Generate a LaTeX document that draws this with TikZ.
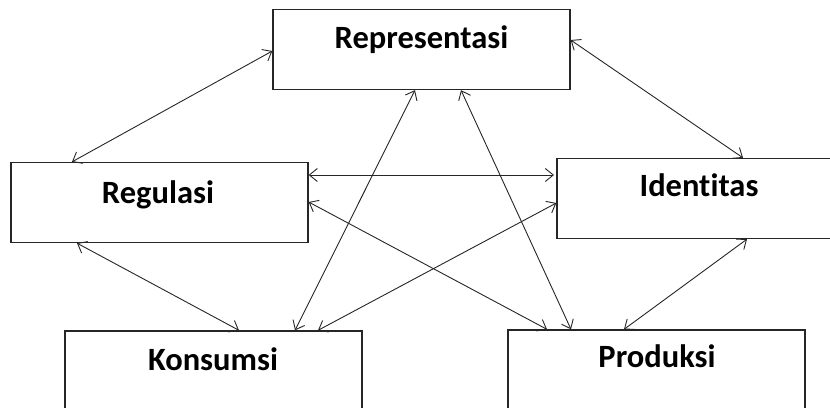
\documentclass[tikz,border=0pt]{standalone}
\usepackage{fontspec}
\setmainfont{Carlito}[Ligatures=NoCommon]
\usetikzlibrary{arrows.meta}
\tikzset{
  box/.style={draw=black!85, line width=1.3pt, minimum width=297pt, minimum height=80pt, inner sep=0pt, fill=none},
  lbl/.style={anchor=base, inner sep=0pt, font=\fontsize{32.5}{38}\selectfont\bfseries},
  arr/.style={draw=black!85, line width=0.9pt, {Straight Barb[length=8pt,width=13pt]}-{Straight Barb[length=8pt,width=13pt]}}
}
\begin{document}
\begin{tikzpicture}[x=1pt,y=-1pt]
\useasboundingbox (0,0) rectangle (830,407);
\clip (0,0) rectangle (830,407);
\node[box] (rep) at (421.5,49.5) {};
\node[box] (reg) at (159.5,202.5) {};
\node[box] (ide) at (705.5,198.5) {};
\node[box] (kon) at (213.5,371) {};
\node[box] (pro) at (656.5,370) {};
\node[lbl] (trep) at (421.5,48) {Representasi};
\node[lbl] (treg) at (158,203) {Regulasi};
\node[lbl] (tide) at (699,196) {Identitas};
\node[lbl] (tkon) at (213,370) {Konsumsi};
\node[lbl] (tpro) at (657,367) {Produksi};
\draw[arr] (rep.west |- 0,51) -- (reg.north -| 72,0);
\draw[arr] (rep.east |- 0,40) -- (ide.north -| 743,0);
\draw[arr] (reg.east |- 0,175) -- (554,175);
\draw[arr] (reg.east |- 0,202) -- (pro.north -| 547,0);
\draw[arr] (ide.west |- 0,203) -- (kon.north -| 318,0);
\draw[arr] (rep.south -| 415,0) -- (kon.north -| 295,0);
\draw[arr] (rep.south -| 461,0) -- (pro.north -| 571,0);
\draw[arr] (reg.south -| 77,0) -- (kon.north -| 239,0);
\draw[arr] (ide.south -| 747,0) -- (pro.north -| 624,0);
\end{tikzpicture}
\end{document}
